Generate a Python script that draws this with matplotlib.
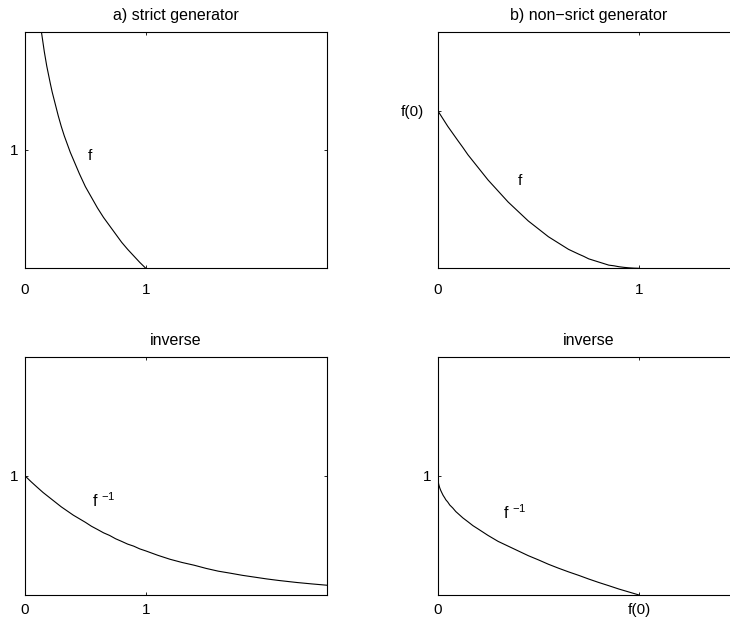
import matplotlib
matplotlib.use('Agg')
import matplotlib.pyplot as plt

plt.rcParams['font.family'] = ['Liberation Sans', 'DejaVu Sans']
plt.rcParams['mathtext.default'] = 'regular'

# a) strict generator f
a_t = [0.13, 0.14, 0.15, 0.16, 0.17, 0.18, 0.19, 0.2, 0.21, 0.225, 0.25, 0.275, 0.3,
       0.325, 0.35, 0.375, 0.4, 0.425, 0.45, 0.475, 0.5, 0.55, 0.6, 0.65, 0.7, 0.75,
       0.8, 0.85, 0.9, 0.95, 1.0]
a_f = [2.04, 1.97, 1.90, 1.83, 1.77, 1.71, 1.66, 1.61, 1.56, 1.49, 1.39, 1.29, 1.20,
       1.12, 1.05, 0.98, 0.92, 0.86, 0.80, 0.745, 0.69, 0.60, 0.51, 0.43, 0.36, 0.29,
       0.22, 0.16, 0.105, 0.05, 0.0]

# b) non-strict generator f
b_t = [0, 0.025, 0.05, 0.075, 0.1, 0.125, 0.15, 0.175, 0.2, 0.225, 0.25, 0.275, 0.3,
       0.325, 0.35, 0.375, 0.4, 0.425, 0.45, 0.475, 0.5, 0.525, 0.55, 0.575, 0.6,
       0.625, 0.65, 0.675, 0.7, 0.725, 0.75, 0.775, 0.8, 0.825, 0.85, 0.875, 0.9,
       0.925, 0.95, 0.975, 1.0]
b_f = [1.0, 0.95, 0.90, 0.855, 0.81, 0.766, 0.72, 0.68, 0.64, 0.60, 0.56, 0.525, 0.49,
       0.455, 0.42, 0.39, 0.36, 0.33, 0.30, 0.275, 0.25, 0.225, 0.20, 0.18, 0.16,
       0.14, 0.12, 0.105, 0.09, 0.076, 0.06, 0.05, 0.04, 0.03, 0.02, 0.016, 0.01,
       0.006, 0.003, 0.001, 0.0]

# inverse of a)
c_s = [0, 0.05, 0.1, 0.15, 0.2, 0.25, 0.3, 0.35, 0.4, 0.45, 0.5, 0.55, 0.6, 0.65,
       0.7, 0.75, 0.8, 0.85, 0.9, 0.95, 1.0, 1.1, 1.2, 1.3, 1.4, 1.5, 1.6, 1.7, 1.8,
       1.9, 2.0, 2.1, 2.25, 2.375, 2.5]
c_y = [1.0, 0.951, 0.905, 0.86, 0.82, 0.78, 0.74, 0.705, 0.67, 0.64, 0.61, 0.577,
       0.55, 0.522, 0.50, 0.472, 0.45, 0.427, 0.41, 0.387, 0.37, 0.333, 0.30, 0.273,
       0.25, 0.223, 0.20, 0.183, 0.165, 0.15, 0.135, 0.122, 0.105, 0.093, 0.082]

# inverse of b)
d_s = [0, 0.001, 0.003, 0.006, 0.01, 0.015, 0.02, 0.027, 0.035, 0.04, 0.05, 0.06,
       0.075, 0.09, 0.1, 0.125, 0.15, 0.175, 0.2, 0.25, 0.3, 0.35, 0.4, 0.45, 0.5,
       0.55, 0.6, 0.65, 0.7, 0.75, 0.8, 0.85, 0.9, 0.95, 1.0]
d_y = [1.0, 0.968, 0.945, 0.923, 0.90, 0.878, 0.86, 0.836, 0.815, 0.80, 0.78, 0.755,
       0.73, 0.70, 0.685, 0.647, 0.615, 0.582, 0.555, 0.50, 0.45, 0.41, 0.37, 0.33,
       0.295, 0.258, 0.225, 0.194, 0.165, 0.134, 0.105, 0.078, 0.05, 0.025, 0.0]

titles = ['a) strict generator', 'b) non\u2212srict generator', 'inverse', 'inverse']

fs = 11
fig = plt.figure(figsize=(7.3, 6.21), dpi=100)

# pixel boxes -> figure fractions (right column runs off the picture, like the original)
W, H = 730.0, 621.0
def box(x0, y0, w, h):
    return [x0 / W, 1 - (y0 + h) / H, w / W, h / H]

ax1 = fig.add_axes(box(25, 31.7, 302, 236.6))
ax2 = fig.add_axes(box(437.7, 31.7, 302, 236.6))
ax3 = fig.add_axes(box(25, 356.7, 302, 238.3))
ax4 = fig.add_axes(box(437.7, 356.7, 302, 238.3))

def style(ax, title, xpad, ypad):
    ax.set_title(title, fontsize=fs + 0.5, pad=8.5)
    ax.tick_params(direction='in', length=2.5, width=0.6, top=True, right=True,
                   labelsize=fs)
    ax.tick_params(axis='x', pad=xpad)
    ax.tick_params(axis='y', pad=ypad)
    for s in ax.spines.values():
        s.set_linewidth(0.8)

ax1.plot(a_t, a_f, color='black', linewidth=0.8)
ax1.set_xlim(0, 2.5)
ax1.set_ylim(0, 2)
ax1.set_xticks([0, 1])
ax1.set_xticklabels(['0', '1'])
ax1.set_yticks([1])
ax1.set_yticklabels(['1'])
ax1.text(0.516, 0.915, 'f', fontsize=fs)
style(ax1, titles[0], 10.5, 4.8)

ax2.plot(b_t, b_f, color='black', linewidth=0.8)
ax2.set_xlim(0, 1.5)
ax2.set_ylim(0, 1.5)
ax2.set_xticks([0, 1])
ax2.set_xticklabels(['0', '1'])
ax2.set_yticks([1])
ax2.set_yticklabels(['f(0)'])
ax2.text(0.397, 0.528, 'f', fontsize=fs)
style(ax2, titles[1], 10.5, 9.6)

ax3.plot(c_s, c_y, color='black', linewidth=0.8)
ax3.set_xlim(0, 2.5)
ax3.set_ylim(0, 2)
ax3.set_xticks([0, 1])
ax3.set_xticklabels(['0', '1'])
ax3.set_yticks([1])
ax3.set_yticklabels(['1'])
ax3.text(0.555, 0.74, 'f $^{-1}$', fontsize=fs + 0.5)
style(ax3, titles[2], 5.5, 4.8)

ax4.plot(d_s, d_y, color='black', linewidth=0.8)
ax4.set_xlim(0, 1.5)
ax4.set_ylim(0, 2)
ax4.set_xticks([0, 1])
ax4.set_xticklabels(['0', 'f(0)'])
ax4.set_yticks([1])
ax4.set_yticklabels(['1'])
ax4.text(0.326, 0.64, 'f $^{-1}$', fontsize=fs + 0.5)
style(ax4, titles[3], 5.5, 4.8)

plt.savefig('out.png', dpi=100)
plt.close()
